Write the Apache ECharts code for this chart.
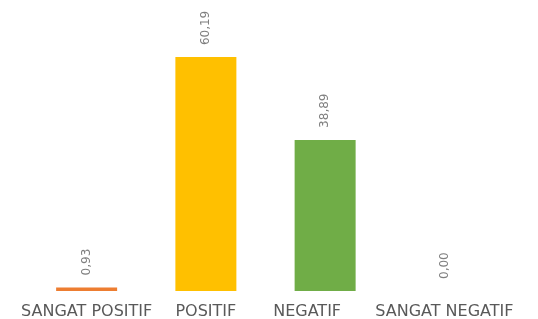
<!DOCTYPE html>
<html>
<head>
<meta charset="utf-8">
<script src="https://cdn.jsdelivr.net/npm/echarts@6/dist/echarts.min.js"></script>
<style>
  html, body { margin: 0; padding: 0; background: #fff; }
  #chart { width: 538px; height: 319px; }
</style>
</head>
<body>
<div id="chart"></div>
<script>
// kategori dan nilai persentase
const categories = ['SANGAT POSITIF', 'POSITIF', 'NEGATIF', 'SANGAT NEGATIF'];
const values = [0.93, 60.19, 38.89, 0.0];
const barColors = ['#ED7D31', '#FFC000', '#70AD47', '#A5A5A5'];

const chart = echarts.init(document.getElementById('chart'));

chart.setOption({
  animation: false,
  grid: {
    left: 27,
    right: 34,
    top: 19,
    bottom: 28,
    outerBoundsMode: 'none',
  },
  xAxis: {
    type: 'category',
    data: categories,
    axisLine: { show: false },
    axisTick: { show: false },
    axisLabel: {
      interval: 0,
      color: '#595959',
      fontSize: 16,
      fontFamily: 'DejaVu Sans',
      margin: 13,
      formatter: (v) => (v === 'NEGATIF' ? '{neg|' + v + '}' : '{base|' + v + '}'),
      rich: {
        base: { color: '#595959', fontSize: 16, fontFamily: 'DejaVu Sans' },
        neg: { color: '#595959', fontSize: 16, fontFamily: 'DejaVu Sans', padding: [0, 36, 0, 0] },
      },
    },
  },
  yAxis: {
    type: 'value',
    min: 0,
    max: 70,
    show: false,
    splitLine: { show: false },
  },
  series: [
    {
      type: 'bar',
      barWidth: 61,
      data: values.map((v, i) => ({
        value: v,
        itemStyle: { color: barColors[i] },
      })),
      label: {
        show: true,
        position: 'top',
        rotate: 90,
        align: 'left',
        verticalAlign: 'middle',
        distance: 12,
        color: '#7F7F7F',
        fontSize: 12,
        fontFamily: 'DejaVu Sans',
        formatter: (p) => p.value.toFixed(2).replace('.', ','),
      },
    },
  ],
});
</script>
</body>
</html>
